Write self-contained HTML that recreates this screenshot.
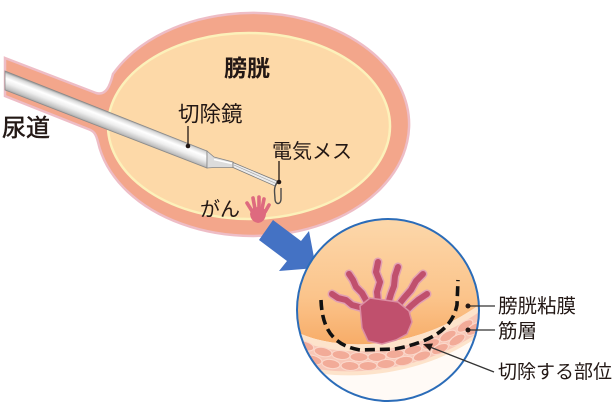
<!DOCTYPE html>
<html lang="ja">
<head>
<meta charset="utf-8">
<style>
  html,body{margin:0;padding:0;background:#ffffff;}
  body{width:614px;height:406px;overflow:hidden;}
  svg{display:block;}
  .t{font-family:"Liberation Sans","Noto Sans CJK JP",sans-serif;fill:#231815;}
</style>
</head>
<body>
<svg width="614" height="406" viewBox="0 0 614 406" xmlns="http://www.w3.org/2000/svg">
  <defs>
    <linearGradient id="tubeG" gradientUnits="userSpaceOnUse" x1="100" y1="108.6" x2="93.3" y2="125.8">
      <stop offset="0" stop-color="#9a9a9a"/>
      <stop offset="0.1" stop-color="#d6d6d6"/>
      <stop offset="0.32" stop-color="#ffffff"/>
      <stop offset="0.55" stop-color="#eeeeee"/>
      <stop offset="0.82" stop-color="#c2c2c2"/>
      <stop offset="1" stop-color="#8c8c8c"/>
    </linearGradient>
    <linearGradient id="orangeG2" gradientUnits="userSpaceOnUse" x1="0" y1="225" x2="0" y2="345">
      <stop offset="0" stop-color="#fcd6a8"/>
      <stop offset="0.6" stop-color="#fbc48b"/>
      <stop offset="1" stop-color="#f7ac68"/>
    </linearGradient>
    <clipPath id="circ">
      <circle cx="388" cy="310" r="91"/>
    </clipPath>
  </defs>

  <!-- Bladder outer wall + urethra -->
  <path d="M5,58 L96,93 C106,96 110,86 113,74 A156.5,111.5 0 1 1 98,142 C96,134 94,131 88,129 L5,96 Z"
        fill="#f3a68b" stroke="#eebdc6" stroke-width="2.5"/>
  <!-- Lumen -->
  <ellipse cx="249" cy="126" rx="141" ry="93" fill="#fdd9a8" stroke="#fcf1ba" stroke-width="2.5"/>

  <!-- Small tumor in bladder -->
  <g stroke="#de6a7f" stroke-width="3.6" stroke-linecap="round" fill="none">
    <path d="M252,211 L247,203"/>
    <path d="M255,209 L253,198"/>
    <path d="M259,209 L259,197"/>
    <path d="M262,209 L264,199"/>
    <path d="M265,212 L269,205"/>
  </g>
  <path d="M250,214 Q251,207 258,207 Q266,207 266,214 Q265,222 258,223 Q251,222 250,214 Z" fill="#de6a7f"/>

  <!-- Resectoscope tube -->
  <path d="M5,71 L207,151 L207,168 L5,90 Z" fill="url(#tubeG)" stroke="#8a8a8a" stroke-width="0.8"/>
  <path d="M207,151 L214,157 L233,162 Q236,165 233,167.5 L214,167.5 L207,168 Z" fill="#dcdcdc" stroke="#858585" stroke-width="0.8"/>
  <path d="M214,159.5 L232,163.5" stroke="#ffffff" stroke-width="1.5"/>
  <!-- rods -->
  <path d="M233,162.5 L277,181 L275,186 L233,167.5 Z" fill="#ececec" stroke="#7a7a7a" stroke-width="0.8"/>
  <path d="M234,165 L276,183.5" stroke="#a0a0a0" stroke-width="0.6"/>
  <!-- hook electrode -->
  <path d="M277,183 C273,188 275,194 275,199 C275,205 281,205 281,199 L281,188" fill="none" stroke="#4a4a4a" stroke-width="1.4"/>

  <!-- label pointers in bladder -->
  <line x1="188" y1="126" x2="188" y2="146" stroke="#231815" stroke-width="1.3"/>
  <circle cx="188" cy="146" r="2.3" fill="#231815"/>
  <line x1="279" y1="161" x2="279" y2="182" stroke="#231815" stroke-width="1.3"/>
  <circle cx="279" cy="182" r="2.3" fill="#231815"/>

  <!-- Texts (bladder) -->
  <text class="t" x="224" y="76" font-size="23" font-weight="bold">膀胱</text>
  <text class="t" x="2" y="136" font-size="24" stroke="#231815" stroke-width="0.5">尿道</text>
  <text class="t" x="178" y="121.5" font-size="21.5">切除鏡</text>
  <text class="t" x="272" y="158" font-size="20">電気メス</text>
  <text class="t" x="200" y="216" font-size="20">がん</text>

  <!-- Blue arrow -->
  <polygon points="273,220 301,241 309,231 316,268 279,271 287,261 259,240" fill="#4472c4"/>

  <!-- Magnified circle -->
  <g clip-path="url(#circ)">
    <rect x="290" y="210" width="200" height="200" fill="#fffaf6"/>
    <!-- orange mucosa -->
    <path d="M285,210 L495,210 L495,300 L482,303 C410,355 330,350 295,331 L285,327 Z" fill="url(#orangeG2)"/>
    <!-- cream band + base under muscle -->
    <path d="M285,327 L295,331 C330,350 410,355 482,303 L495,298 L495,336 L482,334 C420,379 340,382 295,368 L285,365 Z" fill="#fde3cb"/>
    <!-- muscle -->
    <path d="M285,334 L295,338 C330,357 410,362 482,310 L495,305 L495,330 L482,330 C420,375 340,378 295,364 L285,361 Z" fill="#f8c7b7"/>
    <g fill="#f2ab98" stroke="#fbd8cb" stroke-width="1.1">
      <ellipse cx="305" cy="346" rx="9" ry="4.5" transform="rotate(16 305 346)"/>
      <ellipse cx="323" cy="352" rx="9" ry="4.5" transform="rotate(12 323 352)"/>
      <ellipse cx="341" cy="355" rx="9" ry="4.5" transform="rotate(6 341 355)"/>
      <ellipse cx="359" cy="357" rx="9" ry="4.5" transform="rotate(2 359 357)"/>
      <ellipse cx="377" cy="357" rx="9" ry="4.5"/>
      <ellipse cx="395" cy="354" rx="9" ry="4.5" transform="rotate(-6 395 354)"/>
      <ellipse cx="413" cy="350" rx="9" ry="4.5" transform="rotate(-14 413 350)"/>
      <ellipse cx="431" cy="344" rx="9" ry="4.5" transform="rotate(-22 431 344)"/>
      <ellipse cx="448" cy="336" rx="9" ry="4.5" transform="rotate(-28 448 336)"/>
      <ellipse cx="465" cy="326" rx="9" ry="4.5" transform="rotate(-34 465 326)"/>
      <ellipse cx="313" cy="360" rx="9" ry="4.5" transform="rotate(14 313 360)"/>
      <ellipse cx="331" cy="364" rx="9" ry="4.5" transform="rotate(8 331 364)"/>
      <ellipse cx="350" cy="366" rx="9" ry="4.5" transform="rotate(3 350 366)"/>
      <ellipse cx="368" cy="366" rx="9" ry="4.5"/>
      <ellipse cx="386" cy="364" rx="9" ry="4.5" transform="rotate(-4 386 364)"/>
      <ellipse cx="404" cy="361" rx="9" ry="4.5" transform="rotate(-10 404 361)"/>
      <ellipse cx="422" cy="356" rx="9" ry="4.5" transform="rotate(-18 422 356)"/>
      <ellipse cx="440" cy="349" rx="9" ry="4.5" transform="rotate(-25 440 349)"/>
      <ellipse cx="457" cy="340" rx="9" ry="4.5" transform="rotate(-31 457 340)"/>
      <ellipse cx="474" cy="329" rx="9" ry="4.5" transform="rotate(-36 474 329)"/>
    </g>

    <!-- Large tumor -->
    <g fill="none" stroke-linecap="round" stroke-linejoin="round">
      <g stroke="#e3a0b2" stroke-width="9">
        <path d="M363,308 L352,305 L346,300 L338,298 L332,294"/>
        <path d="M367,302 L362,293 L356,287 L353,280 L349,274"/>
        <path d="M378,302 L377,292 L380,282 L376,272 L378,262"/>
        <path d="M388,304 L391,294 L394,286 L395,276 L398,267"/>
        <path d="M396,308 L404,298 L411,290 L416,281 L423,274"/>
        <path d="M403,314 L411,306 L418,300 L427,294"/>
      </g>
      <g stroke="#c0506d" stroke-width="6">
        <path d="M363,308 L352,305 L346,300 L338,298 L332,294"/>
        <path d="M367,302 L362,293 L356,287 L353,280 L349,274"/>
        <path d="M378,302 L377,292 L380,282 L376,272 L378,262"/>
        <path d="M388,304 L391,294 L394,286 L395,276 L398,267"/>
        <path d="M396,308 L404,298 L411,290 L416,281 L423,274"/>
        <path d="M403,314 L411,306 L418,300 L427,294"/>
      </g>
    </g>
    <path d="M360,306 L370,298 L384,300 L398,302 L409,311 L412,322 L407,334 L396,340 L382,344 L368,341 L362,328 Z"
          fill="#c0506d" stroke="#dc8ea3" stroke-width="1.5"/>

    <!-- dashed resection line -->
    <path d="M321,300 C322,325 330,345 360,350 L395,349 C430,342 452,330 457,305 L458,280"
          fill="none" stroke="#111111" stroke-width="3.6" stroke-dasharray="10,5"/>
  </g>
  <circle cx="388" cy="310" r="91" fill="none" stroke="#2b6cb8" stroke-width="2"/>

  <!-- Right labels -->
  <line x1="468" y1="306" x2="495" y2="306" stroke="#333" stroke-width="1.3"/>
  <circle cx="468" cy="306" r="2.5" fill="#231815"/>
  <line x1="468" y1="330" x2="495" y2="330" stroke="#333" stroke-width="1.3"/>
  <circle cx="468" cy="330" r="2.5" fill="#231815"/>
  <line x1="494" y1="372" x2="430" y2="347" stroke="#333" stroke-width="1.3"/>
  <polygon points="423,344 433,343.5 430,351" fill="#231815"/>

  <text class="t" x="498" y="312.5" font-size="19.5">膀胱粘膜</text>
  <text class="t" x="498" y="337.5" font-size="19.5">筋層</text>
  <text class="t" x="498" y="378" font-size="19">切除する部位</text>
</svg>
</body>
</html>
